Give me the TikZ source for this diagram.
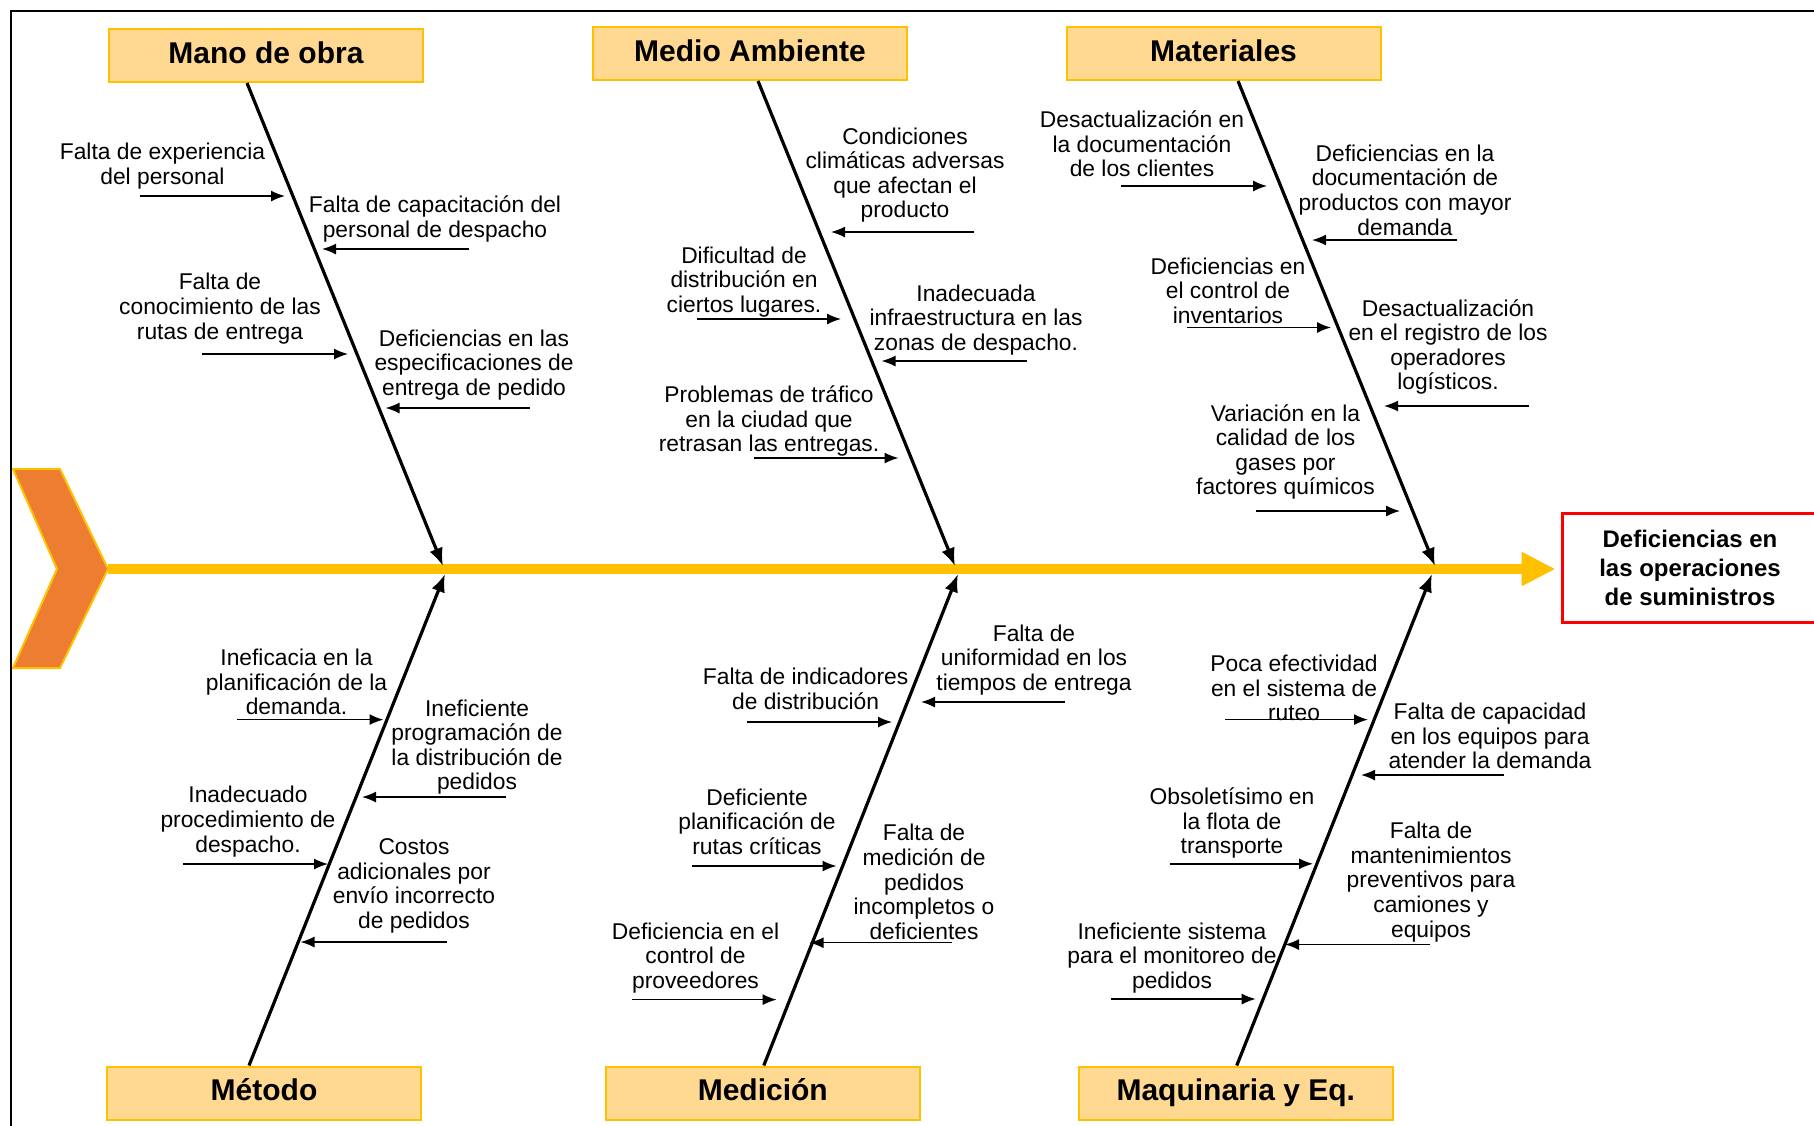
\documentclass[tikz,border=0pt]{standalone}
\usepackage{fontspec}
\setmainfont{Liberation Sans}
\usepackage{tikz}
\usetikzlibrary{arrows.meta,calc}
\definecolor{SpineYellow}{HTML}{FFC000}
\definecolor{HeadOrange}{HTML}{ED7D31}
\definecolor{BoxFill}{HTML}{FFD991}
\definecolor{EffectRed}{HTML}{FF0000}

\begin{document}
\begin{tikzpicture}[x=0.5pt, y=-0.5pt,
  category/.style={rectangle, draw=SpineYellow, line width=1pt, fill=BoxFill, minimum width=157pt, minimum height=26.5pt, inner sep=0pt, text height=11pt, text depth=3.5pt, font=\fontsize{15}{18}\selectfont\bfseries},
  effect/.style={rectangle, draw=EffectRed, line width=1.5pt, minimum width=128pt, minimum height=54.5pt, align=center, inner sep=0pt, font=\fontsize{12}{14.5}\selectfont\bfseries},
  causetext/.style={align=center, inner sep=0pt, font=\fontsize{11.4}{12.3}\selectfont},
  bone/.style={-{Latex[length=9pt,width=7pt]}, line width=1.6pt},
  causearrow/.style={-{Latex[length=7pt,width=5.5pt]}, line width=0.75pt},
  spine/.style={-{Triangle[length=17pt,width=16pt]}, line width=5pt, SpineYellow},
  chevron/.style={fill=HeadOrange, draw=SpineYellow, line width=1pt}
]
\useasboundingbox (0,0) rectangle (1814,1125);

% Head of the fish
\draw[chevron] (13,469) -- (60,469) -- (108,569) -- (60,668) -- (13,668) -- (57,569) -- cycle;
\coordinate (tail) at (108,569);

% Effect
\node[effect] (effect) at (1690,567.5) {Deficiencias en\\las operaciones\\de suministros};

% Spine
\draw[spine, shorten >=2.5pt] (tail) -- (tail -| effect.west);

% Categories
\node[category] (mano) at (266,55.5) {Mano de obra};
\node[category] (medio) at (750,53.5) {Medio Ambiente};
\node[category] (mat) at (1223.5,53.5) {Materiales};
\node[category] (metodo) at (264,1093) {Método};
\node[category] (medicion) at (762.8,1093) {Medición};
\node[category] (maq) at (1235.75,1093) {Maquinaria y Eq.};

% Bones
\coordinate (manoJ) at (443,566);
\coordinate (medioJ) at (955,566);
\coordinate (matJ) at (1435,566);
\coordinate (metodoJ) at (445,574);
\coordinate (medicionJ) at (958,574);
\coordinate (maqJ) at (1432,574);
\draw[bone] ($(mano.south)+(-19,0)$) -- (manoJ);
\draw[bone] ($(medio.south)+(8,0)$) -- (medioJ);
\draw[bone] ($(mat.south)+(14.5,0)$) -- (matJ);
\draw[bone] ($(metodo.north)+(-15,0)$) -- (metodoJ);
\draw[bone] ($(medicion.north)+(1,0)$) -- (medicionJ);
\draw[bone] ($(maq.north)+(1,0)$) -- (maqJ);

% Mano de obra
\foreach \cx/\cy/\txt/\ax/\bx/\ay [count=\i] in {
  162.5/166/{Falta de experiencia\\del personal}/140/285/196,
  435/219/{Falta de capacitación del\\personal de despacho}/469/322/249,
  220/308.5/{Falta de\\conocimiento de las\\rutas de entrega}/202/348/354,
  474/365/{Deficiencias en las\\especificaciones de\\entrega de pedido}/530/385.5/408} {
  \node[causetext] (mano-c\i) at (\cx,\cy) {\txt};
  \coordinate (mano-a\i) at (\ax,\ay);
  \coordinate (mano-b\i) at (\bx,\ay);
  \draw[causearrow] (mano-a\i) -- (mano-b\i);
}

% Medio Ambiente
\foreach \cx/\cy/\txt/\ax/\bx/\ay [count=\i] in {
  905/175/{Condiciones\\climáticas adversas\\que afectan el\\producto}/974/831/232,
  744/282/{Dificultad de\\distribución en\\ciertos lugares.}/697/841/319,
  976/320/{Inadecuada\\infraestructura en las\\zonas de despacho.}/1027/881.5/361,
  769/421/{Problemas de tráfico\\en la ciudad que\\retrasan las entregas.}/754/898.5/458} {
  \node[causetext] (medio-c\i) at (\cx,\cy) {\txt};
  \coordinate (medio-a\i) at (\ax,\ay);
  \coordinate (medio-b\i) at (\bx,\ay);
  \draw[causearrow] (medio-a\i) -- (medio-b\i);
}

% Materiales
\foreach \cx/\cy/\txt/\ax/\bx/\ay [count=\i] in {
  1142/144/{Desactualización en\\la documentación\\de los clientes}/1121/1267/186,
  1405/190/{Deficiencias en la\\documentación de\\productos con mayor\\demanda}/1457/1312/240,
  1228/290.5/{Deficiencias en\\el control de\\inventarios}/1187/1331/327.5,
  1448/347/{Desactualización\\en el registro de los\\operadores\\logísticos.}/1529/1384/406,
  1285.5/452/{Variación en la\\calidad de los\\gases por\\factores químicos}/1256/1400/511} {
  \node[causetext] (mat-c\i) at (\cx,\cy) {\txt};
  \coordinate (mat-a\i) at (\ax,\ay);
  \coordinate (mat-b\i) at (\bx,\ay);
  \draw[causearrow] (mat-a\i) -- (mat-b\i);
}

% Metodo
\foreach \cx/\cy/\txt/\ax/\bx/\ay [count=\i] in {
  296.5/682/{Ineficacia en la\\planificación de la\\demanda.}/237/383.5/719.6,
  477/747/{Ineficiente\\programación de\\la distribución de\\pedidos}/506/362/797,
  248/821.5/{Inadecuado\\procedimiento de\\despacho.}/183/328/864,
  414/886/{Costos\\adicionales por\\envío incorrecto\\de pedidos}/447/300.5/942} {
  \node[causetext] (metodo-c\i) at (\cx,\cy) {\txt};
  \coordinate (metodo-a\i) at (\ax,\ay);
  \coordinate (metodo-b\i) at (\bx,\ay);
  \draw[causearrow] (metodo-a\i) -- (metodo-b\i);
}

% Medicion
\foreach \cx/\cy/\txt/\ax/\bx/\ay [count=\i] in {
  805.6/689/{Falta de indicadores\\de distribución}/747/892/722,
  1034/660/{Falta de\\uniformidad en los\\tiempos de entrega}/1064.6/921/702,
  757/821.5/{Deficiente\\planificación de\\rutas críticas}/692/836.5/866,
  924/882/{Falta de\\medición de\\pedidos\\incompletos o\\deficientes}/952/809.6/942.7,
  695.5/958/{Deficiencia en el\\control de\\proveedores}/632/776.7/999.6} {
  \node[causetext] (medicion-c\i) at (\cx,\cy) {\txt};
  \coordinate (medicion-a\i) at (\ax,\ay);
  \coordinate (medicion-b\i) at (\bx,\ay);
  \draw[causearrow] (medicion-a\i) -- (medicion-b\i);
}

% Maquinaria y Eq.
\foreach \cx/\cy/\txt/\ax/\bx/\ay [count=\i] in {
  1294/688/{Poca efectividad\\en el sistema de\\ruteo}/1225/1368/719.6,
  1490/736/{Falta de capacidad\\en los equipos para\\atender la demanda}/1504/1361/775,
  1232/823/{Obsoletísimo en\\la flota de\\transporte}/1170/1313/863.8,
  1431/882/{Falta de\\mantenimientos\\preventivos para\\camiones y\\equipos}/1430/1285/944.5,
  1172/958/{Ineficiente sistema\\para el monitoreo de\\pedidos}/1110.6/1255.7/999} {
  \node[causetext] (maq-c\i) at (\cx,\cy) {\txt};
  \coordinate (maq-a\i) at (\ax,\ay);
  \coordinate (maq-b\i) at (\bx,\ay);
  \draw[causearrow] (maq-a\i) -- (maq-b\i);
}

% Frame
\draw[line width=1pt] (11,1130) -- (11,11) -- (1830,11);

\end{tikzpicture}
\end{document}
